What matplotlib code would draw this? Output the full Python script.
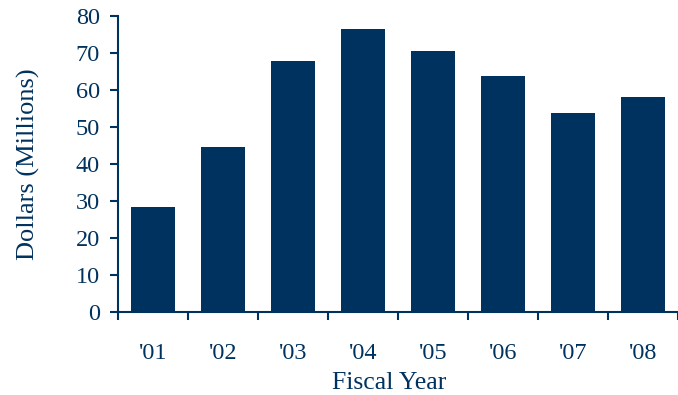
import matplotlib
matplotlib.use("Agg")
import matplotlib.pyplot as plt
from matplotlib import font_manager
import numpy as np

categories = ["'01", "'02", "'03", "'04", "'05", "'06", "'07", "'08"]
values = [28.4, 44.6, 67.8, 76.5, 70.5, 63.8, 53.8, 58.1]
yticks = [0, 10, 20, 30, 40, 50, 60, 70, 80]

navy = '#00325F'

fp_path = None
for f in font_manager.fontManager.ttflist:
    if f.name == 'Liberation Serif' and f.style == 'normal' and f.weight in (400, 'normal', 'regular'):
        fp_path = f.fname
        break
fam = 'Liberation Serif' if fp_path else 'DejaVu Serif'
plt.rcParams['font.family'] = [fam, 'DejaVu Serif']

fig = plt.figure(figsize=(6.78, 3.95), dpi=100)
ax = fig.add_axes([0.174, 0.2101, 0.826, 0.7494])
x = np.arange(len(categories))
ax.bar(x, values, width=0.63, color=navy, zorder=2)
ax.set_xlim(-0.5, len(categories) - 0.5)
ax.set_ylim(0, 80)
ax.set_yticks(yticks)
ax.set_yticklabels([str(v) for v in yticks])
ax.set_xticks(np.arange(len(categories) + 1) - 0.5)
ax.set_xticklabels([])
ax.set_xticks(x, minor=True)
ax.set_xticklabels(categories, minor=True)
ax.tick_params(axis='x', which='minor', length=0, pad=22, labelsize=17.5, labelcolor=navy)
ax.tick_params(axis='x', which='major', length=6, width=1.5, direction='out', color=navy)
ax.tick_params(axis='y', length=6, width=1.5, direction='out', color=navy, pad=7, labelsize=17.5, labelcolor=navy)
for s in ['top', 'right']:
    ax.spines[s].set_visible(False)
for s in ['left', 'bottom']:
    ax.spines[s].set_color(navy)
    ax.spines[s].set_linewidth(1.5)
ax.set_xlabel('Fiscal Year', fontsize=18.5, color=navy, labelpad=6)
ax.xaxis.label.set_x(0.485)
ax.set_ylabel('Dollars (Millions)', fontsize=19, color=navy, labelpad=26)
fig.savefig('out.png', dpi=100)
